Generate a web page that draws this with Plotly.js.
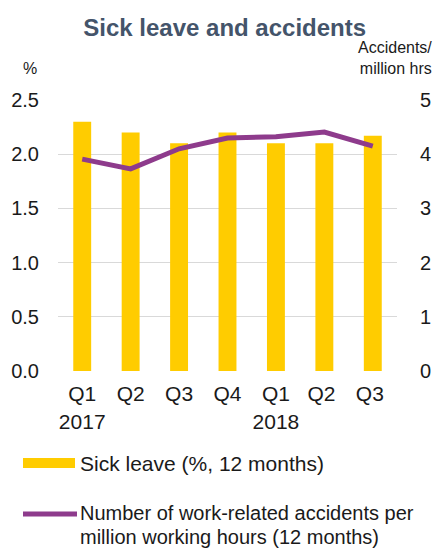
<!DOCTYPE html>
<html>
<head>
<meta charset="utf-8">
<script src="https://cdn.plot.ly/plotly-3.0.1.min.js"></script>
<style>html,body{margin:0;padding:0;background:#fff;}#chart{width:438px;height:550px;}</style>
</head>
<body>
<div id="chart"></div>
<script>
const categories = ["Q1<br>2017", "Q2", "Q3", "Q4", "Q1<br>2018", "Q2 ", "Q3 "];
const sickLeave = [2.3, 2.2, 2.1, 2.2, 2.1, 2.1, 2.17];
const accidents = [3.91, 3.73, 4.1, 4.3, 4.32, 4.41, 4.15];
const leftTicks = [0, 0.5, 1, 1.5, 2, 2.5];
const leftTickText = ["0.0", "0.5", "1.0", "1.5", "2.0", "2.5"];
const rightTicks = [0, 1, 2, 3, 4, 5];

const FONT = "Liberation Sans, Arial, sans-serif";
const YELLOW = "#FFCC00";
const PURPLE = "#8E3B8C";

const traces = [
  {type: "bar", x: categories, y: sickLeave, name: "Sick leave (%, 12 months)",
   marker: {color: YELLOW}, showlegend: false, hoverinfo: "y"},
  {type: "scatter", mode: "lines", x: categories, y: accidents, yaxis: "y2",
   name: "Number of work-related accidents per million working hours (12 months)",
   line: {color: PURPLE, width: 5}, showlegend: false, hoverinfo: "y"}
];

const layout = {
  width: 438, height: 550,
  margin: {l: 58, r: 41, t: 100, b: 179},
  paper_bgcolor: "#fff", plot_bgcolor: "#fff",
  font: {family: FONT, color: "#1a1a1a", size: 20},
  bargap: 0.63,
  title: {text: "<b>Sick leave and accidents</b>", font: {family: FONT, size: 24, color: "#44546A"},
          x: 0.513, xanchor: "center", y: 0.95, yanchor: "middle"},
  xaxis: {type: "category", tickfont: {size: 21}, showgrid: false, zeroline: false,
          showline: false, ticks: "outside", ticklen: 4, tickcolor: "rgba(0,0,0,0)"},
  yaxis: {range: [0, 2.5], tickvals: leftTicks, ticktext: leftTickText, showgrid: true,
          gridcolor: "#D9D9D9", gridwidth: 1.3, zeroline: false, showline: false,
          ticks: "outside", ticklen: 14, tickcolor: "rgba(0,0,0,0)", tickfont: {size: 20}},
  yaxis2: {range: [0, 5], tickvals: rightTicks, overlaying: "y", side: "right",
           showgrid: false, zeroline: false, showline: false,
           ticks: "outside", ticklen: 18, tickcolor: "rgba(0,0,0,0)", tickfont: {size: 20}},
  shapes: [
    {type: "rect", xref: "paper", yref: "paper", x0: -35/339, x1: 17/339,
     y0: (371-468)/271, y1: (371-458)/271, fillcolor: YELLOW, line: {width: 0}},
    {type: "line", xref: "paper", yref: "paper", x0: -35/339, x1: 19/339,
     y0: (371-514)/271, y1: (371-514)/271, line: {color: PURPLE, width: 5}}
  ],
  annotations: [
    {xref: "paper", yref: "paper", x: -37/339, y: (371-68)/271, xanchor: "left", yanchor: "middle",
     text: "%", showarrow: false, font: {size: 16, color: "#1a1a1a"}},
    {xref: "paper", yref: "paper", x: 1 + 37/339, y: (371-58)/271, xanchor: "right", yanchor: "middle",
     text: "Accidents/<br>million hrs", align: "right", showarrow: false, font: {size: 16, color: "#1a1a1a"}},
    {xref: "paper", yref: "paper", x: 20/339, y: (371-463)/271, xanchor: "left", yanchor: "middle",
     text: "Sick leave (%, 12 months)", showarrow: false, font: {size: 21, color: "#1a1a1a"}},
    {xref: "paper", yref: "paper", x: 20/339, y: (371-513)/271, xanchor: "left", yanchor: "middle",
     text: "Number of work-related accidents per", showarrow: false, font: {size: 20, color: "#1a1a1a"}},
    {xref: "paper", yref: "paper", x: 20/339, y: (371-537)/271, xanchor: "left", yanchor: "middle",
     text: "million working hours (12 months)", showarrow: false, font: {size: 20, color: "#1a1a1a"}}
  ]
};

Plotly.newPlot("chart", traces, layout, {displayModeBar: false, staticPlot: true});
</script>
</body>
</html>
